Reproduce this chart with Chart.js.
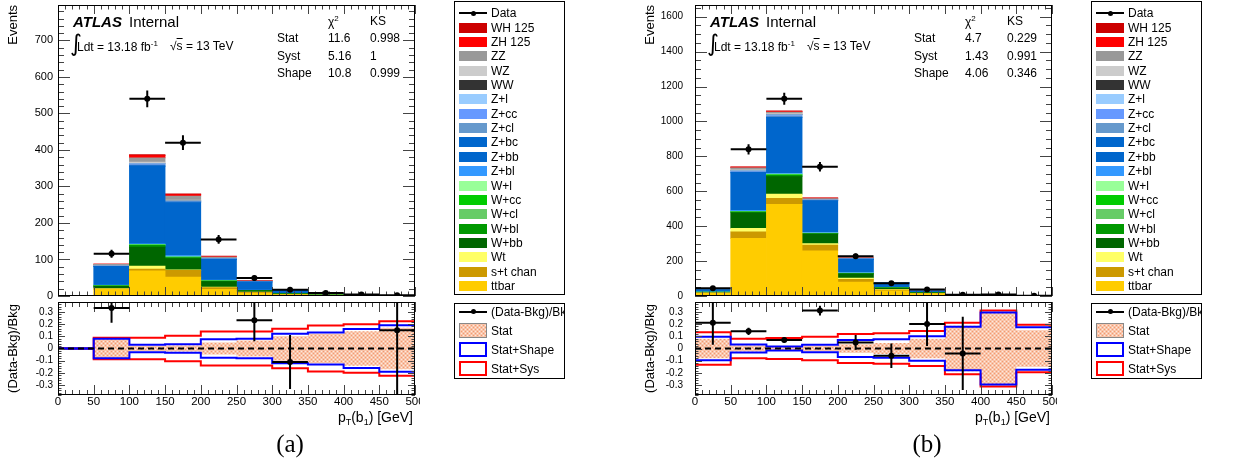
<!DOCTYPE html>
<html>
<head>
<meta charset="utf-8">
<script src="https://cdn.jsdelivr.net/npm/chart.js@4.4.1/dist/chart.umd.min.js"></script>
<style>
    body { margin: 0; background: #fff; }
    #lienzo { position: relative; width: 1245px; height: 466px; overflow: hidden; font-family: 'Liberation Sans', Arial, sans-serif; color: #000; }
    canvas { position: absolute; }
    .t { position: absolute; white-space: nowrap; line-height: 1; font-size: 12px; }
    .leyenda { position: absolute; border: 1px solid #000; background: #fff; overflow: hidden; box-sizing: border-box; }
    .leyenda div { position: absolute; }
    .xtit { font-size: 14px; text-align: right; width: 200px; }
    .xtit sub { font-size: 9px; vertical-align: -3px; }
    .letra { font-family: 'Liberation Serif', 'DejaVu Serif', serif; font-size: 25px; text-align: center; width: 60px; }
</style>
</head>
<body>
<div id="lienzo">
    <canvas id="principalA" width="420" height="302" style="left:0;top:0"></canvas>
    <canvas id="ratioA" width="420" height="132" style="left:0;top:298px"></canvas>
    <canvas id="principalB" width="420" height="302" style="left:637px;top:0"></canvas>
    <canvas id="ratioB" width="420" height="132" style="left:637px;top:298px"></canvas>
</div>
<script>
// bordes de los bins en GeV
const binEdges = [0, 50, 100, 150, 200, 250, 300, 350, 400, 450, 500]

// orden del stack, de abajo hacia arriba
const sampleNames = ['ttbar', 's+t chan', 'Wt', 'W+bb', 'W+bl', 'W+cl', 'W+cc', 'W+l', 'Z+bl', 'Z+bb', 'Z+bc', 'Z+cl', 'Z+cc', 'Z+l', 'WW', 'WZ', 'ZZ', 'ZH 125', 'WH 125']
const sampleColors = ['#ffcc00', '#cc9900', '#ffff66', '#006600', '#009900', '#66cc66', '#00cc00', '#99ff99', '#3399ff', '#0066cc', '#0066cc', '#6699cc', '#6699ff', '#99ccff', '#333333', '#cccccc', '#999999', '#ff0000', '#cc0000']

// panel (a)
const ttbarA  = [0, 18, 69, 52, 18, 8, 3, 1.5, 0.6, 0.3]
const stChanA = [0, 1.5, 5, 18, 5, 2, 1, 0.5, 0.2, 0.1]
const wtA     = [0, 1, 8, 1.5, 1.5, 1, 0.5, 0.2, 0.1, 0]
const wbbA    = [0, 6, 52, 31, 15, 4, 1.5, 0.8, 0.5, 0.2]
const wblA    = [0, 1.5, 4.5, 3, 1.5, 0.5, 0.2, 0.1, 0.05, 0]
const wclA    = [0, 0.5, 1, 0.5, 0.3, 0.1, 0.05, 0, 0, 0]
const wccA    = [0, 0.3, 0.5, 0.5, 0.3, 0.1, 0.05, 0, 0, 0]
const wlA     = [0, 0.2, 0.5, 0.5, 0.3, 0.1, 0.05, 0, 0, 0]
const zblA    = [0, 1, 2.5, 4, 1.5, 0.5, 0.3, 0.1, 0.05, 0]
const zbbA    = [0, 50, 212, 145, 57, 22, 9.5, 4, 2.3, 0.9]
const zbcA    = [0, 1, 2, 1.5, 0.5, 0.3, 0.1, 0.05, 0, 0]
const zclA    = [0, 0.5, 2.5, 1, 0.5, 0.2, 0.1, 0, 0, 0]
const zccA    = [0, 0.3, 1.5, 0.5, 0.3, 0.1, 0.05, 0, 0, 0]
const zlA     = [0, 0.5, 2, 1.5, 0.5, 0.2, 0.1, 0.05, 0, 0]
const wwA     = [0, 0.2, 0.5, 0.3, 0.1, 0.05, 0, 0, 0, 0]
const wzA     = [0, 1.5, 3, 2, 1, 0.5, 0.2, 0.1, 0.05, 0]
const zzA     = [0, 3, 12, 11, 3.5, 2, 1, 0.5, 0.2, 0.1]
const zhA     = [0, 0.2, 6, 4, 1.5, 1, 0.5, 0.2, 0.1, 0.05]
const whA     = [0, 0.1, 3, 2, 1, 0.5, 0.3, 0.1, 0.05, 0.05]
const dataA    = [null, 116, 540, 420, 155, 49, 17, 8, 4, 2]
const dataErrA = [0, 11, 23, 20, 12, 7, 4, 3, 2, 1.4]
const ratioA    = [null, 0.33, null, null, null, 0.23, -0.11, null, null, 0.15]
const ratioErrA = [0, 0.12, 0, 0, 0, 0.17, 0.22, 0, 0, 0.85]
const statA  = [0, 0.075, 0.02, 0.025, 0.05, 0.065, 0.1, 0.12, 0.14, 0.17]
const shapeA = [0, 0.08, 0.03, 0.035, 0.075, 0.08, 0.12, 0.13, 0.16, 0.19]
const sysA   = [0, 0.088, 0.088, 0.105, 0.138, 0.138, 0.162, 0.188, 0.198, 0.222]
const chi2A = ['11.6', '5.16', '10.8']
const ksA   = ['0.998', '1', '0.999']

// panel (b)
const ttbarB  = [15, 330, 525, 259, 80, 30, 12, 3, 2.5, 1]
const stChanB = [2, 38, 35, 33, 16, 5, 2, 0.5, 0.5, 0.2]
const wtB     = [1, 19, 24, 8, 6, 3, 1.5, 0.5, 0.5, 0.1]
const wbbB    = [3, 90, 100, 54, 25, 8, 3, 0.8, 0.6, 0.2]
const wblB    = [0.5, 4, 7, 3, 2, 1, 0.5, 0.1, 0.1, 0]
const wclB    = [0.2, 1.5, 2, 1, 0.5, 0.2, 0.1, 0, 0, 0]
const wccB    = [0.2, 1, 2, 1, 0.5, 0.2, 0.1, 0, 0, 0]
const wlB     = [0.3, 1.5, 3, 1, 1, 0.3, 0.1, 0, 0, 0]
const zblB    = [0.5, 6, 5, 4, 3, 1, 0.5, 0.1, 0.1, 0]
const zbbB    = [13, 214, 318, 180, 76, 25, 8, 1.8, 1.5, 0.4]
const zbcB    = [0.3, 3, 4, 2, 1, 0.5, 0.2, 0, 0, 0]
const zclB    = [0.3, 4, 6, 2, 1, 0.5, 0.2, 0, 0, 0]
const zccB    = [0.2, 2, 3, 1, 0.5, 0.2, 0.1, 0, 0, 0]
const zlB     = [0.3, 4, 5, 2, 1, 0.5, 0.2, 0.1, 0, 0]
const wwB     = [0.1, 1, 1, 0.5, 0.2, 0.1, 0.05, 0, 0, 0]
const wzB     = [0.3, 4, 5, 2, 1, 0.5, 0.3, 0.1, 0, 0]
const zzB     = [0.5, 11, 8, 4, 2, 1, 0.8, 0.2, 0.1, 0.05]
const zhB     = [0.1, 4, 5, 3, 0.8, 0.3, 0.8, 0.1, 0.1, 0.05]
const whB     = [0.1, 2, 3, 1.5, 0.5, 0.2, 0.6, 0, 0, 0]
const dataB    = [45, 840, 1130, 740, 228, 73, 37, 7, 9, 1]
const dataErrB = [6.7, 29, 34, 27, 15, 8.5, 6, 2.6, 3, 1]
const ratioB    = [0.21, 0.14, 0.07, 0.31, 0.05, -0.06, 0.2, -0.04, null, null]
const ratioErrB = [0.18, 0.03, 0.02, 0.04, 0.06, 0.1, 0.18, 0.3, 0, 0]
const statB  = [0.08, 0.025, 0.015, 0.02, 0.035, 0.045, 0.08, 0.185, 0.29, 0.15]
const shapeB = [0.096, 0.032, 0.016, 0.03, 0.07, 0.075, 0.1, 0.177, 0.295, 0.173]
const sysB   = [0.132, 0.08, 0.085, 0.097, 0.118, 0.125, 0.142, 0.21, 0.31, 0.195]
const chi2B = ['4.7', '1.43', '4.06']
const ksB   = ['0.229', '0.991', '0.346']

const fitRows = ['Stat', 'Syst', 'Shape']

const yieldsA = [ttbarA, stChanA, wtA, wbbA, wblA, wclA, wccA, wlA, zblA, zbbA, zbcA, zclA, zccA, zlA, wwA, wzA, zzA, zhA, whA]
const yieldsB = [ttbarB, stChanB, wtB, wbbB, wblB, wclB, wccB, wlB, zblB, zbbB, zbcB, zclB, zccB, zlB, wwB, wzB, zzB, zhB, whB]

const fuente = "'Liberation Sans', Arial, sans-serif"
const lienzo = document.getElementById('lienzo')
const centros = binEdges.slice(0, -1).map((e, i) => (e + binEdges[i + 1]) / 2)
const mitades = binEdges.slice(0, -1).map((e, i) => (binEdges[i + 1] - e) / 2)

// patron tipo ROOT para la banda estadistica
const patronCanvas = document.createElement('canvas')
patronCanvas.width = 4
patronCanvas.height = 4
const pctx = patronCanvas.getContext('2d')
pctx.fillStyle = '#f9c4a9'
pctx.fillRect(0, 0, 4, 4)
pctx.fillStyle = '#fde9de'
pctx.fillRect(1, 1, 1, 1)
pctx.fillRect(3, 3, 1, 1)
pctx.fillStyle = '#f29b72'
pctx.fillRect(3, 1, 1, 1)
pctx.fillRect(1, 3, 1, 1)

// ticks solo en multiplos del paso, sin los extremos del eje
const ticksMultiplos = (paso) => (s) => {
    const n0 = Math.ceil(s.min / paso - 1e-6)
    const n1 = Math.floor(s.max / paso + 1e-6)
    const ticks = []
    for (let n = n0; n <= n1; n++) ticks.push({ value: Math.round(n * paso * 1000) / 1000 })
    s.ticks = ticks
}

const marcoRoot = {
    id: 'marcoRoot',
    afterDatasetsDraw(chart, args, opts) {
        const { ctx, chartArea: a, scales: { x, y } } = chart
        ctx.save()
        ctx.lineWidth = 1
        ctx.strokeStyle = '#444'
        const marcas = (escala, paso, largo) => {
            const n0 = Math.ceil(escala.min / paso - 1e-6)
            const n1 = Math.floor(escala.max / paso + 1e-6)
            for (let n = n0; n <= n1; n++) {
                const p = Math.round(escala.getPixelForValue(n * paso)) + 0.5
                ctx.beginPath()
                if (escala.isHorizontal()) {
                    ctx.moveTo(p, a.bottom); ctx.lineTo(p, a.bottom - largo)
                    ctx.moveTo(p, a.top); ctx.lineTo(p, a.top + largo)
                } else {
                    ctx.moveTo(a.left, p); ctx.lineTo(a.left + largo, p)
                    ctx.moveTo(a.right, p); ctx.lineTo(a.right - largo, p)
                }
                ctx.stroke()
            }
        }
        marcas(x, opts.xMenor, opts.xLargo / 2)
        marcas(x, opts.xMayor, opts.xLargo)
        marcas(y, opts.yMenor, opts.yLargo / 2)
        marcas(y, opts.yMayor, opts.yLargo)
        ctx.strokeStyle = '#000'
        ctx.strokeRect(Math.round(a.left) + 0.5, Math.round(a.top) + 0.5, Math.round(a.width) - 1, Math.round(a.height) - 1)
        ctx.restore()
    }
}

const barrasError = {
    id: 'barrasError',
    afterDatasetsDraw(chart) {
        const { ctx, chartArea: a, scales: { x, y } } = chart
        ctx.save()
        ctx.beginPath()
        ctx.rect(a.left, a.top, a.width, a.height)
        ctx.clip()
        ctx.strokeStyle = '#000'
        ctx.lineWidth = 2
        chart.data.datasets.forEach(ds => {
            if (!ds.conErrores) return
            ds.data.forEach(p => {
                const px = x.getPixelForValue(p.x)
                const py = y.getPixelForValue(p.y)
                ctx.beginPath()
                ctx.moveTo(x.getPixelForValue(p.x - p.ex), py)
                ctx.lineTo(x.getPixelForValue(p.x + p.ex), py)
                ctx.moveTo(px, y.getPixelForValue(p.y - p.ey))
                ctx.lineTo(px, y.getPixelForValue(p.y + p.ey))
                ctx.stroke()
            })
        })
        ctx.restore()
    }
}

function puntosConError(valores, errores) {
    return valores
        .map((v, i) => ({ x: centros[i], y: v, ex: mitades[i], ey: errores[i] }))
        .filter(p => p.y !== null)
}

function pasos(valores, signo) {
    const pts = valores.map((v, i) => ({ x: binEdges[i], y: signo * v }))
    pts.push({ x: binEdges[binEdges.length - 1], y: signo * valores[valores.length - 1] })
    return pts
}

function crearPrincipal(canvasId, yields, datos, errores, yMax, yPaso, yMenor, tamEtiqueta, sepEtiqueta) {
    const datasets = [{
        type: 'scatter',
        label: 'Data',
        data: puntosConError(datos, errores),
        conErrores: true,
        stack: 'datos',
        pointRadius: 3,
        pointBackgroundColor: '#000',
        pointBorderWidth: 0,
        showLine: false
    }]
    yields.forEach((vals, k) => {
        datasets.push({
            type: 'bar',
            label: sampleNames[k],
            data: vals.map((v, i) => ({ x: centros[i], y: v })),
            backgroundColor: sampleColors[k],
            borderWidth: 0,
            barPercentage: 1,
            categoryPercentage: 1,
            stack: 'bkg'
        })
    })
    return new Chart(document.getElementById(canvasId), {
        type: 'bar',
        data: { datasets },
        plugins: [marcoRoot, barrasError],
        options: {
            responsive: false,
            animation: false,
            layout: { padding: { top: 5, right: 5, bottom: 6, left: 0 } },
            plugins: {
                legend: { display: false },
                tooltip: { enabled: false },
                marcoRoot: { xMayor: 50, xMenor: 10, xLargo: 9, yMayor: yPaso, yMenor: yMenor, yLargo: 12 }
            },
            scales: {
                x: { type: 'linear', display: false, min: 0, max: 500, offset: false },
                y: {
                    stacked: true,
                    min: 0,
                    max: yMax,
                    grid: { display: false, drawTicks: false, tickLength: 0 },
                    border: { display: false },
                    afterBuildTicks: ticksMultiplos(yPaso),
                    ticks: {
                        autoSkip: false, padding: sepEtiqueta, color: '#000',
                        font: { family: fuente, size: tamEtiqueta },
                        callback: v => String(v)
                    },
                    title: {
                        display: true, text: 'Events', align: 'end', color: '#000',
                        font: { family: fuente, size: 13 }, padding: { top: 6, bottom: 0 }
                    },
                    afterFit: s => { s.width = 58; s.paddingTop = 0; s.paddingBottom = 0 }
                }
            }
        }
    })
}

function crearRatio(canvasId, ratio, ratioErr, stat, shape, sys, sepEtiqueta) {
    const linea = (data, color) => ({
        data, stepped: true, borderColor: color, borderWidth: 2, pointRadius: 0, fill: false
    })
    const datasets = [
        {
            type: 'scatter', data: puntosConError(ratio, ratioErr), conErrores: true,
            pointRadius: 3, pointBackgroundColor: '#000', pointBorderWidth: 0, showLine: false
        },
        {
            data: [{ x: binEdges[0], y: 0 }, { x: binEdges[binEdges.length - 1], y: 0 }],
            borderColor: '#000', borderWidth: 2, borderDash: [6, 4], pointRadius: 0, fill: false
        },
        linea(pasos(shape, 1), '#0000ff'),
        linea(pasos(shape, -1), '#0000ff'),
        linea(pasos(sys, 1), '#ff0000'),
        linea(pasos(sys, -1), '#ff0000'),
        {
            data: pasos(stat, 1), stepped: true, borderWidth: 0, pointRadius: 0,
            fill: '+1', backgroundColor: pctx.createPattern(patronCanvas, 'repeat')
        },
        { data: pasos(stat, -1), stepped: true, borderWidth: 0, pointRadius: 0, fill: false }
    ]
    return new Chart(document.getElementById(canvasId), {
        type: 'line',
        data: { datasets },
        plugins: [marcoRoot, barrasError],
        options: {
            responsive: false,
            animation: false,
            layout: { padding: { top: 4, right: 5, bottom: 0, left: 0 } },
            plugins: {
                legend: { display: false },
                tooltip: { enabled: false },
                filler: { propagate: false },
                marcoRoot: { xMayor: 50, xMenor: 10, xLargo: 10, yMayor: 0.1, yMenor: 0.02, yLargo: 7 }
            },
            scales: {
                x: {
                    type: 'linear', min: 0, max: 500, offset: false,
                    grid: { display: false, drawTicks: false, tickLength: 0 },
                    border: { display: false },
                    afterBuildTicks: ticksMultiplos(50),
                    ticks: {
                        autoSkip: false, maxRotation: 0, padding: 0, color: '#000',
                        font: { family: fuente, size: 11.5 }
                    },
                    afterFit: s => { s.height = 35; s.paddingLeft = 0; s.paddingRight = 0 }
                },
                y: {
                    min: -0.38, max: 0.38,
                    grid: { display: false, drawTicks: false, tickLength: 0 },
                    border: { display: false },
                    afterBuildTicks: ticksMultiplos(0.1),
                    ticks: {
                        autoSkip: false, padding: sepEtiqueta, color: '#000',
                        font: { family: fuente, size: 10 },
                        callback: v => String(Math.round(v * 10) / 10)
                    },
                    title: {
                        display: true, text: '(Data-Bkg)/Bkg', align: 'center', color: '#000',
                        font: { family: fuente, size: 13 }, padding: { top: 6, bottom: 0 }
                    },
                    afterFit: s => { s.width = 58; s.paddingTop = 0; s.paddingBottom = 0 }
                }
            }
        }
    })
}

function texto(x, y, html, css = '', clase = 't') {
    const d = document.createElement('div')
    d.className = clase
    d.style.cssText = `left:${x}px;top:${y}px;${css}`
    d.innerHTML = html
    lienzo.appendChild(d)
    return d
}

function textosPanel(dx, chi2, ks, letra) {
    texto(73 + dx, 14, 'ATLAS', 'font-size:15px;font-weight:bold;font-style:italic')
    texto(129 + dx, 14, 'Internal', 'font-size:15px')
    texto(70 + dx, 32, '&#8747;', "font-size:23px;font-family:'DejaVu Sans',sans-serif")
    texto(77 + dx, 40, 'Ldt = 13.18 fb<sup style="font-size:8px">-1</sup>', 'font-size:12px')
    texto(170 + dx, 40, '&#8730;<span style="text-decoration:overline">s</span> = 13 TeV', 'font-size:12px')
    texto(328 + dx, 15, '&chi;<sup style="font-size:8px">2</sup>', 'font-size:12px')
    texto(370 + dx, 15, 'KS', 'font-size:12px')
    fitRows.forEach((fila, i) => {
        const y = 32 + i * 17.5
        texto(277 + dx, y, fila, 'font-size:12px')
        texto(328 + dx, y, chi2[i], 'font-size:12px')
        texto(370 + dx, y, ks[i], 'font-size:12px')
    })
    texto(213 + dx, 410, 'p<sub>T</sub>(b<sub>1</sub>) [GeV]', '', 't xtit')
    texto(260 + dx, 431, letra, '', 't letra')
}

function crearLeyendas(x) {
    const caja = document.createElement('div')
    caja.className = 'leyenda'
    caja.style.cssText = `left:${x}px;top:1px;width:111px;height:294px`
    const entradas = [{ nombre: 'Data', datos: true }]
        .concat(sampleNames.map((n, i) => ({ nombre: n, color: sampleColors[i] })).reverse())
    entradas.forEach((e, i) => {
        const cy = 11.3 + 14.35 * i
        if (e.datos) {
            caja.insertAdjacentHTML('beforeend',
                `<div style="left:4px;top:${cy - 1}px;width:28px;height:2px;background:#000"></div>` +
                `<div style="left:15.5px;top:${cy - 2.5}px;width:5px;height:5px;border-radius:50%;background:#000"></div>`)
        } else {
            caja.insertAdjacentHTML('beforeend',
                `<div style="left:4px;top:${cy - 5}px;width:28px;height:10px;background:${e.color}"></div>`)
        }
        caja.insertAdjacentHTML('beforeend',
            `<div style="left:36px;top:${cy - 6}px;font-size:12px;line-height:12px;white-space:nowrap">${e.nombre}</div>`)
    })
    lienzo.appendChild(caja)

    const caja2 = document.createElement('div')
    caja2.className = 'leyenda'
    caja2.style.cssText = `left:${x}px;top:303px;width:111px;height:76px`
    const patron = patronCanvas.toDataURL()
    caja2.innerHTML =
        `<div style="left:4px;top:6.7px;width:28px;height:2px;background:#000"></div>` +
        `<div style="left:15.5px;top:5.2px;width:5px;height:5px;border-radius:50%;background:#000"></div>` +
        `<div style="left:36px;top:1.7px;font-size:12px;line-height:12px;white-space:nowrap">(Data-Bkg)/Bkg</div>` +
        `<div style="left:4px;top:19px;width:28px;height:15px;box-sizing:border-box;border:1px solid #888;background:url(${patron})"></div>` +
        `<div style="left:36px;top:20.5px;font-size:12px;line-height:12px">Stat</div>` +
        `<div style="left:4px;top:38px;width:28px;height:15px;box-sizing:border-box;border:2px solid #0000ff"></div>` +
        `<div style="left:36px;top:39.5px;font-size:12px;line-height:12px">Stat+Shape</div>` +
        `<div style="left:4px;top:57px;width:28px;height:15px;box-sizing:border-box;border:2px solid #ff0000"></div>` +
        `<div style="left:36px;top:58.5px;font-size:12px;line-height:12px">Stat+Sys</div>`
    lienzo.appendChild(caja2)
}

crearPrincipal('principalA', yieldsA, dataA, dataErrA, 797, 100, 20, 11, 5)
crearRatio('ratioA', ratioA, ratioErrA, statA, shapeA, sysA, 5)
crearPrincipal('principalB', yieldsB, dataB, dataErrB, 1667, 200, 50, 10, 12)
crearRatio('ratioB', ratioB, ratioErrB, statB, shapeB, sysB, 12)

textosPanel(0, chi2A, ksA, '(a)')
textosPanel(637, chi2B, ksB, '(b)')
crearLeyendas(454)
crearLeyendas(1091)
</script>
</body>
</html>
